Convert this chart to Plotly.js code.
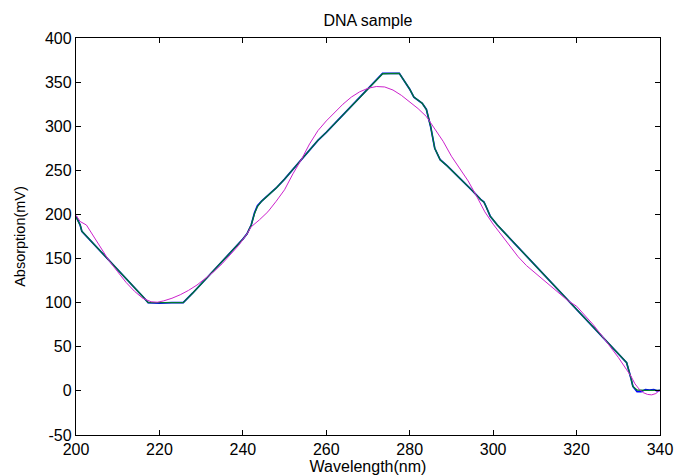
<!DOCTYPE html>
<html>
<head>
<meta charset="utf-8">
<script src="https://cdn.plot.ly/plotly-3.0.1.min.js"></script>
<style>html,body{margin:0;padding:0;background:#fff;}#chart{width:675px;height:475px;}</style>
</head>
<body>
<div id="chart"></div>
<script>
// Wavelength (nm) sample positions and absorption (mV) readings
const blueX = [200,201,201.4,202,204,206,208,210,212,214,216,217.3,220,223,225.7,228,230,232,234,236,238,240,241,242,242.8,243.5,244.5,246,248,250,252,254,256,258,260,262,264,266,268,270,272,273.5,277.5,279,280,281,282,283,284,285,286,287.3,289,291,293,295,297,297.8,298.3,299.3,301,303,305,307,309,311,313,315,317,319,321,323,325,327,329,331,332,333,333.5,334.5,335.5,336.5,337.5,338.5,339.3,340];
const blueY = [198,188,181,178,168,158,147,137,127,117,107,100,99.5,100,100,111,121,131,142,152,162,172,178,188,202,210,215,221,230,240,251,262,273,284,293,303,313,322,332,342,352,360,360,350,342,333,329,326,319,300,275,262,255,246,236,227,217,214,209,198,188,178,168,158,148,138,128,118,108,98,88,78,68,58,48,38,32,15,5,-1,-1,1.5,1,1.5,0,0.5];

const greenX = [200,201,201.4,202,204,206,208,210,212,214,216,217.3,220,223,225.7,228,230,232,234,236,238,240,241,242,242.8,243.5,244.5,246,248,250,252,254,256,258,260,262,264,266,268,270,272,273.5,277.5,279,280,281,282,283,284,285,286,287.3,289,291,293,295,297,297.8,298.3,299.3,301,303,305,307,309,311,313,315,317,319,321,323,325,327,329,331,332,333,333.5,334.5,335.5,336.5,337.5,338.5,339.3,340];
const greenY = [197,188,181,178,168,158,147,137,127,117,107,100,100,100,100,111,121,131,142,152,162,172,178,188,201,209,215,221,230,240,251,262,273,284,293,303,313,322,332,342,352,359.5,360,350,342,333,329,326,319,300,275,262,255,246,236,227,217,214,209,198,188,178,168,158,148,138,128,118,108,98,88,78,68,58,48,38,32,15,5,1,0.5,0.5,0.5,0.5,0.5,0.5];

const magentaX = [200,201,202.5,204,206,208,210,212,214,216,218,219.5,221,223,225,227,229,231,233,235,237,239,241,242,244,246,248,250,252,254,256,258,260,262,264,266,268,270,272,274,276,278,280,282,284,286,288,290,292,294,296,298,300,302,304,306,308,310,312,314,316,318,320,322,324,326,328,330,332,333,334,335,336,337,338,339,340];
const magentaY = [199,192,188,177,161,147,135,123,113,105,101,100.5,102,105,109,114,120,127,135,144,154,165,178,186,194,203,215,228,246,262,280,295,306,316,325,333,339,343,345,344.5,341,335,328,320,311,297,283,266,252,238,221,203,189,177,164,152,142,134,126,117,109,102,96,86,75,63,51,38,24,17,8,2,-2,-4,-4.5,-3,1];

const xTicks = [200,220,240,260,280,300,320,340];
const yTicks = [-50,0,50,100,150,200,250,300,350,400];

const FONT = 'Liberation Sans, Arial, sans-serif';

const traces = [
  {x: blueX, y: blueY, type: 'scatter', mode: 'lines', line: {color: '#0000ff', width: 1.7}, hoverinfo: 'skip'},
  {x: greenX, y: greenY, type: 'scatter', mode: 'lines', line: {color: '#007a2e', width: 1.3}, hoverinfo: 'skip'},
  {x: magentaX, y: magentaY, type: 'scatter', mode: 'lines', line: {color: '#cc22cc', width: 1}, hoverinfo: 'skip'}
];

const axisCommon = {
  showgrid: false, zeroline: false, showline: true, linecolor: '#000', linewidth: 1.2,
  mirror: 'ticks', ticks: 'inside', ticklen: 5, tickcolor: '#000', tickwidth: 1,
  tickfont: {family: FONT, size: 16, color: '#000'}
};

const layout = {
  width: 675, height: 475,
  margin: {l: 76, r: 15, t: 38, b: 40},
  paper_bgcolor: '#fff', plot_bgcolor: '#fff',
  showlegend: false,
  title: {text: 'DNA sample', x: 0.545, xanchor: 'center', y: 0.957, yanchor: 'middle',
          font: {family: FONT, size: 16, color: '#000'}},
  xaxis: Object.assign({}, axisCommon, {
    range: [200, 340], tickvals: xTicks, ticktext: xTicks.map(String),
    title: {text: 'Wavelength(nm)', standoff: 1, font: {family: FONT, size: 16, color: '#000'}}
  }),
  yaxis: Object.assign({}, axisCommon, {
    range: [-50, 400], tickvals: yTicks, ticktext: yTicks.map(String),
    title: {text: 'Absorption(mV)', standoff: 15, font: {family: FONT, size: 14.5, color: '#000'}}
  })
};

Plotly.newPlot('chart', traces, layout, {staticPlot: true, displayModeBar: false});
</script>
</body>
</html>
